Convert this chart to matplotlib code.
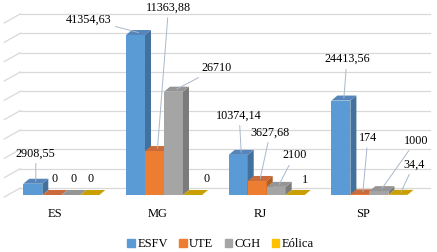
import numpy as np
import matplotlib
matplotlib.use("Agg")
from matplotlib import pyplot as plt
from matplotlib.patches import Patch

plt.rcParams['font.family'] = ['Liberation Serif', 'DejaVu Serif']

# donnees
estados = ['ES', 'MG', 'RJ', 'SP']
series = ['ESFV', 'UTE', 'CGH', 'Eólica']
esfv = [2908.55, 41354.63, 10374.14, 24413.56]
ute = [0, 11363.88, 3627.68, 174]
cgh = [0, 26710, 2100, 1000]
eolica = [0, 0, 1, 34.4]
rotulos = [['2908,55', '0', '0', '0'],
           ['41354,63', '11363,88', '26710', '0'],
           ['10374,14', '3627,68', '2100', '1'],
           ['24413,56', '174', '1000', '34,4']]

# couleurs (face, cote, dessus)
front = ['#5B9BD5', '#ED7D31', '#A5A5A5', '#FFC000']
side = ['#41719C', '#B35E22', '#7B7B7B', '#BF9000']
top = ['#5585BA', '#C96B3A', '#959595', '#C9A000']

# decalage des etiquettes (pixels) et trait de rappel
offs = [[(0, 28, True), (0, 14, False), (0, 14, False), (-2, 14, False)],
        [(-50, 13, True), (11, 141, True), (40, 21, True), (11, 14, False)],
        [(-2, 37, True), (10, 46, True), (15, 29, True), (7, 12, False)],
        [(3, 39, True), (5, 54, True), (34, 48, True), (13, 28, True)]]

fig = plt.figure(figsize=(4.37, 2.52), dpi=100)
ax = fig.add_axes([0, 0, 1, 1])
upp = 258.5  # valeur par pixel
xpp = 1 / 102.7
ax.set_xlim(-61.3 * xpp, (437 - 61.3) * xpp)
ax.set_ylim(-57 * upp, 195 * upp)
ax.axis('off')

# grille du fond
for v in range(0, 45001, 5000):
    yb = v + 7 * upp
    ax.plot([-41 * xpp, 369 * xpp], [yb, yb], color='#D9D9D9', lw=0.9, zorder=0)
    ax.plot([-57 * xpp, -41 * xpp], [yb - 9 * upp, yb], color='#D9D9D9', lw=0.9, zorder=0)

w = 19 * xpp
dx = 6 * xpp
dy = 5 * upp
data = [esfv, ute, cgh, eolica]
for i in range(len(estados)):
    for k in range(4):
        v = data[k][i]
        x0 = i + (k - 2) * w
        z = 2 + k
        if v > 0:
            ax.bar(x0, v, width=w, align='edge', color=front[k], zorder=z, lw=0)
            ax.fill([x0 + w, x0 + w + dx, x0 + w + dx, x0 + w],
                    [0, dy, v + dy, v], color=side[k], zorder=z, lw=0)
        ax.fill([x0, x0 + w, x0 + w + dx, x0 + dx],
                [v, v, v + dy, v + dy], color=top[k], zorder=z, lw=0)
        ox, oy, lead = offs[i][k]
        xy = (x0 + w / 2 + dx / 2, v + dy / 2)
        ap = dict(arrowstyle='-', color='#A8B8CC', lw=0.7, shrinkA=1, shrinkB=0) if lead else None
        ax.annotate(rotulos[i][k], xy=xy, xytext=(ox, oy), textcoords='offset pixels',
                    ha='center', va='center', fontsize=8.7, color='black',
                    arrowprops=ap, zorder=10)

for i, e in enumerate(estados):
    ax.text(i - 0.06, -19 * upp, e, ha='center', va='center', fontsize=9)

handles = [Patch(color=front[k], label=series[k]) for k in range(4)]
ax.legend(handles=handles, loc='lower center', bbox_to_anchor=(0.505, -0.012), ncol=4,
          frameon=False, fontsize=9, handlelength=0.6, handleheight=0.6,
          handletextpad=0.2, columnspacing=0.9, borderaxespad=0.0)

fig.savefig('out.png', dpi=100)
